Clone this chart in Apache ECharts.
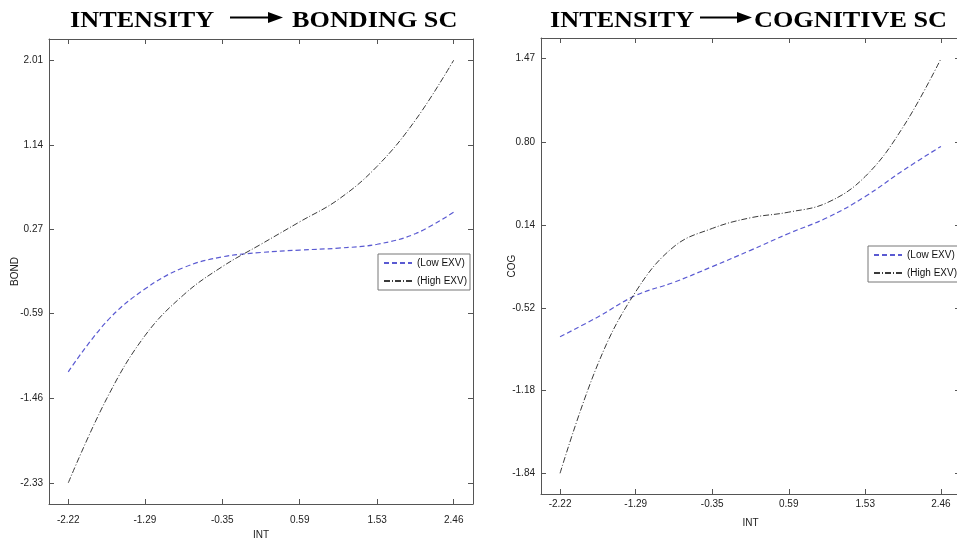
<!DOCTYPE html>
<html>
<head>
<meta charset="utf-8">
<title>Intensity interaction plots</title>
<script src="https://cdn.jsdelivr.net/npm/echarts@6/dist/echarts.min.js"></script>
<style>
  html, body { margin: 0; padding: 0; background: #fff; }
  #chart { width: 957px; height: 539px; }
</style>
</head>
<body>
<div id="chart"></div>
<script>
// x positions (INT) shared by both panels
var intValues = [-2.22, -1.75, -1.29, -0.82, -0.35, 0.12, 0.59, 1.06, 1.53, 2.00, 2.46];

// left panel: BOND
var bondLow  = [-1.19, -0.67, -0.34, -0.12, -0.01, 0.035, 0.06, 0.08, 0.12, 0.23, 0.45];
var bondHigh = [-2.33, -1.46, -0.82, -0.40, -0.11, 0.12, 0.35, 0.58, 0.92, 1.40, 2.01];

// right panel: COG
var cogLow  = [-0.75, -0.59, -0.42, -0.315, -0.19, -0.06, 0.075, 0.20, 0.37, 0.58, 0.77];
var cogHigh = [-1.84, -0.96, -0.39, -0.03, 0.115, 0.20, 0.245, 0.32, 0.53, 0.93, 1.47];

// tick labels
var intTicks  = [-2.22, -1.29, -0.35, 0.59, 1.53, 2.46];
var bondTicks = [-2.33, -1.46, -0.59, 0.27, 1.14, 2.01];
var cogTicks  = [-1.84, -1.18, -0.52, 0.14, 0.80, 1.47];

var seriesNames = ["(Low EXV)", "(High EXV)"];

function pairs(xs, ys) {
  return xs.map(function (x, i) { return [x, ys[i]]; });
}

// MATLAB pads the limits 5% past the data range
function padded(ticks) {
  var lo = ticks[0], hi = ticks[ticks.length - 1];
  var pad = (hi - lo) * 0.05;
  return [lo - pad, hi + pad];
}

function boxAxis(grid, pos, ticks, labelMargin, name, nameGap) {
  var range = padded(ticks);
  var ax = {
    type: "value",
    gridIndex: grid,
    position: pos,
    min: range[0],
    max: range[1],
    axisLine: { show: true, onZero: false, lineStyle: { color: "#555", width: 1 } },
    splitLine: { show: false },
    axisTick: {
      show: true,
      inside: true,
      length: 5,
      customValues: ticks,
      lineStyle: { color: "#555" }
    },
    axisLabel: {
      show: labelMargin != null,
      customValues: ticks,
      margin: labelMargin || 0,
      formatter: function (v) { return v.toFixed(2); },
      fontFamily: "Liberation Sans",
      fontSize: 10,
      color: "#222"
    }
  };
  if (name) {
    ax.name = name;
    ax.nameLocation = "middle";
    ax.nameGap = nameGap;
    ax.nameMoveOverlap = false;
    ax.nameTextStyle = { fontFamily: "Liberation Sans", fontSize: 10, color: "#222" };
  }
  return ax;
}

var lowStyle = { color: "#5a5ad2", width: 1.2, type: [5, 3] };
var highStyle = { color: "#3a3a3a", width: 1, type: [6, 2, 1, 2] };

function lineSeries(name, xi, yi, data, style) {
  return {
    name: name,
    type: "line",
    xAxisIndex: xi,
    yAxisIndex: yi,
    data: data,
    smooth: 0.4,
    symbol: "none",
    lineStyle: style,
    itemStyle: { color: style.color },
    animation: false
  };
}

function legendAt(left, top) {
  return {
    left: left,
    top: top,
    orient: "vertical",
    data: seriesNames,
    backgroundColor: "#fff",
    borderColor: "#777",
    borderWidth: 1,
    borderRadius: 0,
    padding: [4, 3, 4, 5],
    itemWidth: 28,
    itemHeight: 12,
    itemGap: 8,
    selectedMode: false,
    itemStyle: { opacity: 0 },
    textStyle: { fontFamily: "Liberation Sans", fontSize: 10, color: "#111" }
  };
}

var titleFont = 'bold 23px "Liberation Serif"';

function titleParts(leftWord, leftX, arrowX1, arrowX2, rightWord, rightX) {
  return [
    { type: "text", x: leftX, y: 21, scaleX: 1.14,
      style: { text: leftWord, font: titleFont, fill: "#000", verticalAlign: "middle" } },
    { type: "line", shape: { x1: arrowX1, y1: 17.5, x2: arrowX2 - 12, y2: 17.5 },
      style: { stroke: "#000", lineWidth: 2 } },
    { type: "polygon", shape: { points: [[arrowX2 - 15, 12], [arrowX2, 17.5], [arrowX2 - 15, 23]] },
      style: { fill: "#000" } },
    { type: "text", x: rightX, y: 21, scaleX: 1.14,
      style: { text: rightWord, font: titleFont, fill: "#000", verticalAlign: "middle" } }
  ];
}

var chart = echarts.init(document.getElementById("chart"));

chart.setOption({
  backgroundColor: "#fff",
  animation: false,
  grid: [
    { left: 49, top: 39, width: 424, height: 465, show: false, outerBoundsMode: "none", containLabel: false },
    { left: 541, top: 38, width: 419, height: 456, show: false, outerBoundsMode: "none", containLabel: false }
  ],
  xAxis: [
    boxAxis(0, "bottom", intTicks, 11, "INT", 26),
    boxAxis(0, "top", intTicks),
    boxAxis(1, "bottom", intTicks, 5, "INT", 24),
    boxAxis(1, "top", intTicks)
  ],
  yAxis: [
    boxAxis(0, "left", bondTicks, 6, "BOND", 29),
    boxAxis(0, "right", bondTicks),
    boxAxis(1, "left", cogTicks, 6, "COG", 24),
    boxAxis(1, "right", cogTicks)
  ],
  legend: [legendAt(378, 254), legendAt(868, 246)],
  graphic: titleParts("INTENSITY", 70, 230, 283, "BONDING SC", 292)
    .concat(titleParts("INTENSITY", 550, 700, 752, "COGNITIVE SC", 754)),
  series: [
    lineSeries(seriesNames[0], 0, 0, pairs(intValues, bondLow), lowStyle),
    lineSeries(seriesNames[1], 0, 0, pairs(intValues, bondHigh), highStyle),
    lineSeries(seriesNames[0], 2, 2, pairs(intValues, cogLow), lowStyle),
    lineSeries(seriesNames[1], 2, 2, pairs(intValues, cogHigh), highStyle)
  ]
});
</script>
</body>
</html>
